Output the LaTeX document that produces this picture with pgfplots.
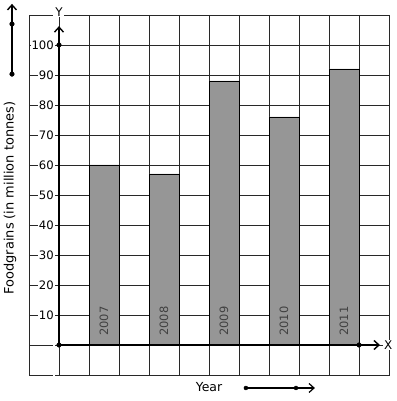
\documentclass[border=0pt]{standalone}
\usepackage{pgfplots}
\pgfplotsset{compat=1.18}
\usepackage{fontspec}
\setmainfont{DejaVu Sans}
\usetikzlibrary{arrows.meta}
\definecolor{bargray}{RGB}{150,150,150}
\definecolor{gridc}{RGB}{40,40,40}
\begin{document}
\begin{tikzpicture}[font=\fontsize{12}{14}\selectfont,
  yr/.style={rotate=90, text=black!75, font=\fontsize{11.5}{13}\selectfont}]
\begin{axis}[
  scale only axis,
  width=360bp, height=360bp,
  xmin=-1, xmax=11, ymin=-10, ymax=110,
  axis line style={gridc, line width=0.9bp},
  xtick={-1,0,...,11}, xticklabels={},
  ytick={-10,0,...,110},
  yticklabels={,,10,20,30,40,50,60,70,80,90,100,},
  major tick length=0pt,
  grid=major,
  major grid style={gridc, line width=0.9bp},
  /pgf/number format/assume math mode=true,
  yticklabel style={fill=white, inner sep=1pt, anchor=east, xshift=26bp, font=\fontsize{11.7}{14}\selectfont},
  clip=false,
]
\addplot[ybar, bar width=1, fill=bargray, draw=black, line width=0.8bp]
  coordinates {(1.5,60) (3.5,57) (5.5,88) (7.5,76) (9.5,92)};
% axes
\addplot[line width=1.7bp, -{Straight Barb[length=5bp,width=9bp,line width=1.4bp]}] coordinates {(0,0) (10.7,0)};
\addplot[line width=1.7bp, -{Straight Barb[length=5bp,width=9bp,line width=1.4bp]}] coordinates {(0,0) (0,106.3)};
\addplot[only marks, mark=*, mark size=2.3bp, black] coordinates {(0,0) (0,100) (10,0)};
% left decoration arrow
\addplot[line width=1.7bp, -{Straight Barb[length=5bp,width=9bp,line width=1.4bp]}] coordinates {(-1.567,90.3) (-1.567,113.7)};
\addplot[only marks, mark=*, mark size=2.3bp, black] coordinates {(-1.567,90.3) (-1.567,107)};
% bottom decoration arrow
\addplot[line width=1.3bp, -{Straight Barb[length=5bp,width=9bp,line width=1.2bp]}] coordinates {(6.23,-14.33) (8.53,-14.33)};
\addplot[only marks, mark=*, mark size=2bp, black] coordinates {(6.23,-14.33) (7.9,-14.33)};
% labels
\node[fill=white, inner sep=1pt] at (axis cs:0,111) {Y};
\node[fill=white, inner sep=1pt] at (axis cs:10.97,0) {X};
\node[font=\fontsize{12.5}{14}\selectfont] at (axis cs:5,-14) {Year};
\node[rotate=90, font=\fontsize{13}{15}\selectfont] at ([xshift=-19bp,yshift=-3bp]rel axis cs:0,0.5) {Foodgrains (in million tonnes)};
\node[yr] at (axis cs:1.5,8) {2007};
\node[yr] at (axis cs:3.5,8) {2008};
\node[yr] at (axis cs:5.5,8) {2009};
\node[yr] at (axis cs:7.5,8) {2010};
\node[yr] at (axis cs:9.5,8) {2011};
\path ([xshift=-29bp,yshift=-26bp]rel axis cs:0,0) rectangle ([xshift=8bp,yshift=15bp]rel axis cs:1,1);
\end{axis}
\end{tikzpicture}
\end{document}
